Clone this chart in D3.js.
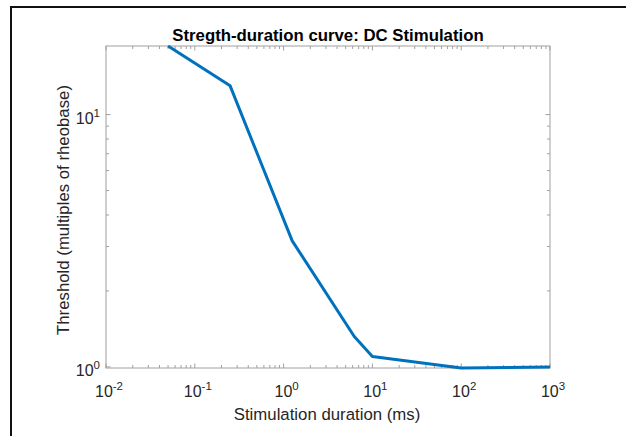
<!DOCTYPE html>
<html>
<head>
<meta charset="utf-8">
<script src="https://cdn.jsdelivr.net/npm/d3@7"></script>
<style>
  body { margin: 0; background: #fff; }
  svg text { font-family: "Liberation Sans", Arial, sans-serif; }
</style>
</head>
<body>
<svg id="chart" width="626" height="436"></svg>
<script>
// stimulation duration (ms) and threshold (multiples of rheobase)
const durations = [0.05, 0.25, 1.25, 6.25, 10, 100, 1000]
const thresholds = [18.7, 13.0, 3.16, 1.32, 1.10, 0.99, 1.0]
const xTickExps = [-2, -1, 0, 1, 2, 3]
const yTickExps = [0, 1]
const title = 'Stregth-duration curve: DC Stimulation'
const xLabel = 'Stimulation duration (ms)'
const yLabel = 'Threshold (multiples of rheobase)'

const svg = d3.select('#chart')
const margin = { left: 106, right: 550, top: 46, bottom: 368 }
const axisColor = '#a0a0a0'
const textColor = '#262626'
const majorLen = 4.5
const minorLen = 3

// figure frame (cropped on right and bottom)
svg.append('rect')
  .attr('x', 11).attr('y', 7)
  .attr('width', 640).attr('height', 460)
  .attr('fill', 'none')
  .attr('stroke', '#111')
  .attr('stroke-width', 2)

const x = d3.scaleLog()
  .domain([Math.pow(10, xTickExps[0]), Math.pow(10, xTickExps[xTickExps.length - 1])])
  .range([margin.left, margin.right])

const y = d3.scaleLog()
  .domain([d3.min(thresholds), d3.max(thresholds)])
  .range([margin.bottom, margin.top])

const g = svg.append('g')

// minor + major ticks, inside on all four sides
const xTicks = []
for (let e = xTickExps[0]; e < xTickExps[xTickExps.length - 1]; e++) {
  for (let m = 1; m < 10; m++) xTicks.push({ v: m * Math.pow(10, e), major: m === 1 })
}
xTicks.push({ v: Math.pow(10, xTickExps[xTickExps.length - 1]), major: true })

const [y0, y1] = y.domain()
const yTicks = []
for (let e = -1; e < 2; e++) {
  for (let m = 1; m < 10; m++) {
    const v = m * Math.pow(10, e)
    if (v >= y0 && v <= y1) yTicks.push({ v: v, major: m === 1 })
  }
}

xTicks.forEach(t => {
  const px = x(t.v)
  const len = t.major ? majorLen : minorLen
  g.append('line').attr('x1', px).attr('x2', px)
    .attr('y1', margin.bottom).attr('y2', margin.bottom - len)
    .attr('stroke', axisColor).attr('stroke-width', 1)
  g.append('line').attr('x1', px).attr('x2', px)
    .attr('y1', margin.top).attr('y2', margin.top + len)
    .attr('stroke', axisColor).attr('stroke-width', 1)
})

yTicks.forEach(t => {
  const py = y(t.v)
  const len = t.major ? majorLen : minorLen
  g.append('line').attr('x1', margin.left).attr('x2', margin.left + len)
    .attr('y1', py).attr('y2', py)
    .attr('stroke', axisColor).attr('stroke-width', 1)
  g.append('line').attr('x1', margin.right).attr('x2', margin.right - len)
    .attr('y1', py).attr('y2', py)
    .attr('stroke', axisColor).attr('stroke-width', 1)
})

// axes box
g.append('rect')
  .attr('x', margin.left).attr('y', margin.top)
  .attr('width', margin.right - margin.left)
  .attr('height', margin.bottom - margin.top)
  .attr('fill', 'none')
  .attr('stroke', axisColor)
  .attr('stroke-width', 1)

// tick labels as 10^n
function powLabel (sel, exp) {
  sel.append('tspan').text('10')
  sel.append('tspan').attr('font-size', 11.5).attr('dy', -7).text(String(exp))
}

xTickExps.forEach(e => {
  const t = svg.append('text')
    .attr('x', x(Math.pow(10, e)) + 3)
    .attr('y', margin.bottom + 29)
    .attr('text-anchor', 'middle')
    .attr('font-size', 16)
    .attr('fill', textColor)
  powLabel(t, e)
})

yTickExps.forEach(e => {
  const t = svg.append('text')
    .attr('x', margin.left - 6)
    .attr('y', y(Math.pow(10, e)) + 9)
    .attr('text-anchor', 'end')
    .attr('font-size', 16)
    .attr('fill', textColor)
  powLabel(t, e)
})

// the curve
const line = d3.line()
  .x((d, i) => x(durations[i]))
  .y(d => y(d))

g.append('path')
  .datum(thresholds)
  .attr('d', line)
  .attr('fill', 'none')
  .attr('stroke', '#0072BD')
  .attr('stroke-width', 3)
  .attr('stroke-linejoin', 'round')

// titles
svg.append('text')
  .attr('x', (margin.left + margin.right) / 2)
  .attr('y', 41)
  .attr('text-anchor', 'middle')
  .attr('font-size', 16.8)
  .attr('font-weight', 'bold')
  .attr('fill', '#000')
  .text(title)

svg.append('text')
  .attr('x', (margin.left + margin.right) / 2 - 1)
  .attr('y', 420)
  .attr('text-anchor', 'middle')
  .attr('font-size', 16.8)
  .attr('fill', textColor)
  .text(xLabel)

svg.append('text')
  .attr('transform', `translate(69, ${(margin.top + margin.bottom) / 2 + 3}) rotate(-90)`)
  .attr('text-anchor', 'middle')
  .attr('font-size', 16.8)
  .attr('fill', textColor)
  .text(yLabel)
</script>
</body>
</html>
